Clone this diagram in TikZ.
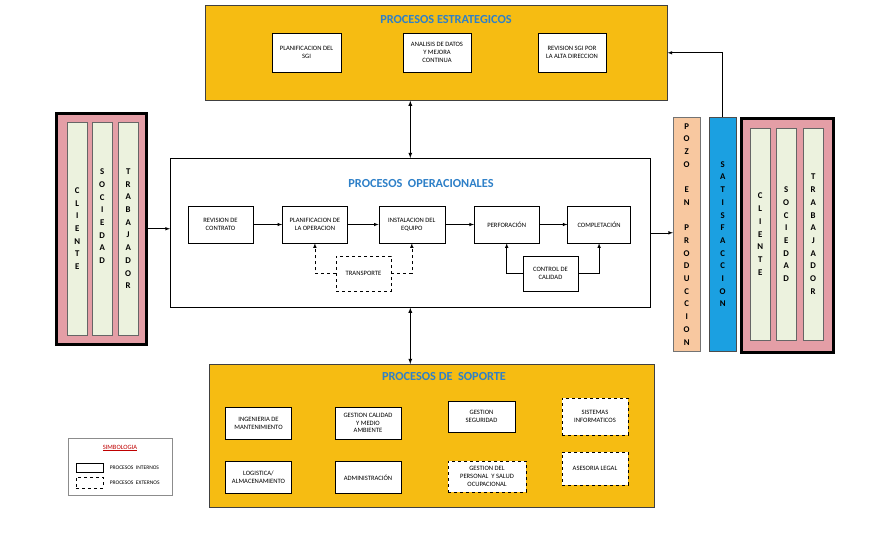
\documentclass[tikz,border=0pt]{standalone}
\usepackage{fontspec}
\setmainfont{Carlito}
\usetikzlibrary{arrows,positioning}
\definecolor{gold}{RGB}{246,188,18}
\definecolor{titleblue}{RGB}{46,128,200}
\definecolor{rose}{RGB}{228,158,166}
\definecolor{cream}{RGB}{236,242,222}
\definecolor{peach}{RGB}{248,200,160}
\definecolor{skyblue}{RGB}{27,160,225}

\begin{document}
\begin{tikzpicture}[x=1pt,y=-1pt,>=latex,semithick]
	  \tikzstyle{area}=[draw=black!75,anchor=north west,inner sep=0pt]
	  \tikzstyle{procbox}=[draw=black,fill=white,thin,align=center,inner sep=1pt,minimum width=65pt,minimum height=37pt,font=\fontsize{6.6}{7.8}\selectfont]
	  \tikzstyle{supbox}=[procbox,minimum width=66pt,minimum height=32pt]
	  \tikzstyle{extern}=[dashed]
	  \tikzstyle{title}=[text=titleblue,font=\bfseries\fontsize{12.3}{14}\selectfont]
	  \tikzstyle{column}=[draw=black!60,fill=cream,thin,anchor=north west,inner sep=0pt,minimum width=20pt,align=center,font=\bfseries\fontsize{8.8}{12.7}\selectfont]
	  \tikzstyle{strip}=[column,minimum width=27pt,minimum height=234pt]

	  \useasboundingbox (0,0) rectangle (882,532);

	  % procesos estrategicos
	  \node[area,fill=gold,minimum width=462pt,minimum height=95pt] (estrat) at (205,5) {};
	  \node[title] (estratT) at (446,20) {PROCESOS ESTRATEGICOS};
	  \node[procbox,minimum width=69pt,minimum height=39pt] (planSGI) at (306.5,52.5) {PLANIFICACION DEL\\SGI};
	  \node[procbox,minimum width=68pt,minimum height=39pt] (analisis) at (437,52.5) {ANALISIS DE DATOS\\Y MEJORA\\CONTINUA};
	  \node[procbox,minimum width=68pt,minimum height=39pt] (revSGI) at (572,52.5) {REVISION SGI POR\\LA ALTA DIRECCION};

	  % procesos operacionales
	  \node[area,draw=black,fill=white,minimum width=480pt,minimum height=149pt] (oper) at (170,158) {};
	  \node[title] (operT) at (421,184) {PROCESOS\ \ OPERACIONALES};
	  \node[procbox] (revision) at (220.5,224.5) {REVISION DE\\CONTRATO};
	  \node[procbox] (planif) [right=29pt of revision] {PLANIFICACION DE\\LA OPERACION};
	  \node[procbox,minimum width=66pt] (instal) [right=31pt of planif] {INSTALACION DEL\\EQUIPO};
	  \node[procbox] (perfor) [right=29pt of instal] {PERFORACIÓN};
	  \node[procbox,minimum width=63pt] (complet) [right=28pt of perfor] {COMPLETACIÓN};
	  \node[procbox,extern,minimum width=55pt,minimum height=35pt] (transp) at (363.5,273.5) {TRANSPORTE};
	  \node[procbox,minimum width=55pt,minimum height=35pt] (control) at (550.5,273.5) {CONTROL DE\\CALIDAD};

	  \path[->]
	  (revision) edge (planif)
	  (planif) edge (instal)
	  (instal) edge (perfor)
	  (perfor) edge (complet);
	  \draw[->,dashed] (transp.west) -| (planif.south);
	  \draw[->,dashed] (transp.east) -| (instal.south);
	  \draw[->] (control.west) -| (perfor.south);
	  \draw[->] (control.east) -| (complet.south);

	  % procesos de soporte
	  \node[area,fill=gold,minimum width=445pt,minimum height=143pt] (soporte) at (209,364) {};
	  \node[title] (soporteT) at (444,377) {PROCESOS DE\ \ SOPORTE};
	  \node[supbox] (ingen) at (258.5,423) {INGENIERIA DE\\MANTENIMIENTO};
	  \node[supbox] (calidad) at (368,423) {GESTION CALIDAD\\Y MEDIO\\AMBIENTE};
	  \node[supbox,minimum width=67pt,minimum height=31pt] (segur) at (481.5,416.5) {GESTION\\SEGURIDAD};
	  \node[supbox,extern,minimum height=37pt] (sistemas) at (595,416.5) {SISTEMAS\\INFORMATICOS};
	  \node[supbox] (logist) at (258.5,477.5) {LOGISTICA/\\ALMACENAMIENTO};
	  \node[supbox] (admin) at (368,477.5) {ADMINISTRACIÓN};
	  \node[supbox,extern,minimum width=78pt,minimum height=31pt] (personal) at (487,476.5) {GESTION DEL\\PERSONAL\ \ Y SALUD\\OCUPACIONAL};
	  \node[supbox,extern,minimum height=33pt] (asesoria) at (595,468.5) {ASESORIA LEGAL};

	  % partes interesadas
	  \node[area,draw=black,line width=2.5pt,fill=rose,minimum width=90pt,minimum height=231pt] (stakeL) at (55,112) {};
	  \node[column,minimum height=213pt] (clienteL) at (67,122) {C\\L\\I\\E\\N\\T\\E};
	  \node[column,minimum height=213pt] (sociedadL) at (92,122) {S\\O\\C\\I\\E\\D\\A\\D\\[12pt]};
	  \node[column,minimum height=213pt] (trabajL) at (118,122) {T\\R\\A\\B\\A\\J\\A\\D\\O\\R};

	  \node[strip,draw=black!55,fill=peach] (pozo) at (673,117) {P\\O\\Z\\O\\[12.7pt]E\\N\\[12.7pt]P\\R\\O\\D\\U\\C\\C\\I\\O\\N};
	  \node[strip,draw=black!70,fill=skyblue] (satisf) at (709,117) {S\\A\\T\\I\\S\\F\\A\\C\\C\\I\\O\\N};

	  \node[area,draw=black,line width=2.5pt,fill=rose,minimum width=92pt,minimum height=234pt] (stakeR) at (740,117) {};
	  \node[column,minimum height=212pt] (clienteR) at (750,128) {C\\L\\I\\E\\N\\T\\E};
	  \node[column,minimum height=212pt] (sociedadR) at (776,128) {S\\O\\C\\I\\E\\D\\A\\D};
	  \node[column,minimum height=212pt] (trabajR) at (803,128) {T\\R\\A\\B\\A\\J\\A\\D\\O\\R};

	  % flujo general
	  \draw[->] (stakeL.east) -- (stakeL.east -| oper.west);
	  \draw[->] (oper.east) -- (oper.east -| pozo.west);
	  \draw[<->,thick] (oper.north) -- (oper.north |- estrat.south);
	  \draw[<->,thick] (oper.south) -- (oper.south |- soporte.north);
	  \draw[->] (satisf.north) |- (estrat.east);

	  % simbologia
	  \node[area,draw=black!45,thin,minimum width=104pt,minimum height=57pt] (simbol) at (68,438) {};
	  \node[text=red!75!black,font=\fontsize{6.5}{7}\selectfont] (simbolT) at (120,448) {\underline{SIMBOLOGIA}};
	  \node[draw=black,thin,minimum width=27pt,minimum height=9pt,inner sep=0pt] (interno) at (89.5,467.5) {};
	  \node[draw=black,thin,dashed,minimum width=27pt,minimum height=11pt,inner sep=0pt] (externo) at (89.5,482.5) {};
	  \node[font=\fontsize{5.5}{6}\selectfont,right=3pt of interno] (internoT) {PROCESOS\ \ INTERNOS};
	  \node[font=\fontsize{5.5}{6}\selectfont,right=3pt of externo] (externoT) {PROCESOS\ \ EXTERNOS};
\end{tikzpicture}
\end{document}
